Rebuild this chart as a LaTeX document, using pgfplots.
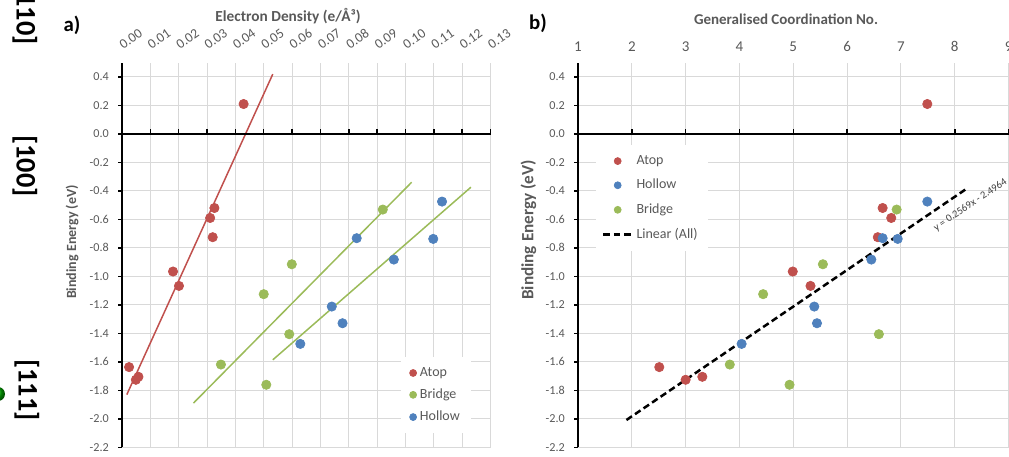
\documentclass[border=0pt]{standalone}
\usepackage{pgfplots}
\pgfplotsset{compat=1.18}
\usepackage{fontspec}
\setmainfont{Carlito}
\definecolor{atop}{HTML}{C0504D}
\definecolor{bridge}{HTML}{9BBB59}
\definecolor{hollow}{HTML}{4F81BD}
\definecolor{txt}{HTML}{595959}
\definecolor{gridc}{HTML}{D9D9D9}
\pgfplotsset{
  common/.style={
    scale only axis,
    height=230.76pt,
    ymin=-2.2, ymax=0.5,
    ytick={-2.2,-2,-1.8,-1.6,-1.4,-1.2,-1,-0.8,-0.6,-0.4,-0.2,0,0.2,0.4},
    axis x line*=top,
    axis y line*=left,
    x axis line style={draw=none},
    y axis line style={line width=1.6pt, black, -},
    xtick style={draw=none},
    ytick style={black, line width=0.9pt},
    tick align=outside,
    major tick length=2.4pt,
    grid=major,
    major grid style={gridc, line width=0.6pt},
    /pgf/number format/assume math mode=true,
    yticklabel style={font=\fontsize{7.3}{8}\selectfont, text=txt, xshift=-2pt,
      /pgf/number format/fixed, /pgf/number format/fixed zerofill,
      /pgf/number format/precision=1},
    clip=false,
    legend cell align=left,
  },
  dot/.style={only marks, mark=*, mark size=2.8pt, mark options={draw=#1, fill=#1}},
}
\begin{document}
\begin{tikzpicture}
\useasboundingbox (0pt,0pt) rectangle (605.4pt,273.6pt);
% left labels
\node[rotate=-90, font=\bfseries\fontsize{17}{17}\selectfont] at (15pt,265.2pt) {[110]};
\node[rotate=-90, font=\bfseries\fontsize{17}{17}\selectfont] at (15pt,174pt) {[100]};
\node[rotate=-90, font=\bfseries\fontsize{17}{17}\selectfont] at (16.2pt,39.6pt) {[111]};
\shade[ball color=green!70!black] (-1.2pt,37.2pt) circle (4.2pt);
\node[font=\bfseries\fontsize{12.5}{13}\selectfont] at (43.2pt,258.6pt) {a)};
\node[font=\bfseries\fontsize{12.5}{13}\selectfont] at (322.8pt,259.8pt) {b)};
\node[font=\bfseries\fontsize{9.2}{10}\selectfont, text=txt] at (172.8pt,264pt) {Electron Density (e/Å³)};
\node[font=\bfseries\fontsize{9}{10}\selectfont, text=txt] at (471.6pt,262.2pt) {Generalised Coordination No.};
\node[rotate=90, font=\bfseries\fontsize{8.4}{10}\selectfont, text=txt] at (43.2pt,128.4pt) {Binding Energy (eV)};
\node[rotate=90, font=\bfseries\fontsize{10.3}{11}\selectfont, text=txt] at (317pt,135.6pt) {Binding Energy (eV)};

% ---------- panel a ----------
\begin{axis}[common,
  at={(73.2pt,5.22pt)}, anchor=south west,
  width=221.1pt,
  xmin=0, xmax=0.13,
  xtick={0,0.01,0.02,0.03,0.04,0.05,0.06,0.07,0.08,0.09,0.1,0.11,0.12,0.13},
  xticklabel style={yshift=0.8pt, rotate=35, anchor=south west, font=\fontsize{8.2}{9}\selectfont, text=txt,
     /pgf/number format/fixed, /pgf/number format/fixed zerofill, /pgf/number format/precision=2},
  legend style={at={(0.757,0.235)}, anchor=north west, draw=none, fill=white,
     font=\fontsize{8.4}{10}\selectfont, text=txt, row sep=2pt, inner xsep=5pt, inner ysep=4pt},
  legend image code/.code={\draw[mark repeat=2,mark phase=2,#1, mark size=2.1pt] plot coordinates {(0cm,0cm)(0.12cm,0cm)(0.24cm,0cm)};},
]
\addplot[dot=atop] coordinates {(0.0429,0.21) (0.0326,-0.52) (0.0311,-0.59) (0.0320,-0.725) (0.0180,-0.966) (0.0201,-1.067) (0.0025,-1.637) (0.0049,-1.726) (0.0058,-1.705)};
\addlegendentry{Atop}
\addplot[dot=bridge] coordinates {(0.0920,-0.531) (0.0599,-0.915) (0.0500,-1.125) (0.0590,-1.406) (0.0349,-1.619) (0.0509,-1.761)};
\addlegendentry{Bridge}
\addplot[dot=hollow] coordinates {(0.1129,-0.475) (0.1098,-0.737) (0.0828,-0.732) (0.0959,-0.882) (0.0740,-1.212) (0.0778,-1.329) (0.0629,-1.474)};
\addlegendentry{Hollow}
\addplot[atop, line width=0.9pt, forget plot] coordinates {(0.0017,-1.83) (0.0532,0.42)};
\addplot[bridge, line width=0.9pt, forget plot] coordinates {(0.0252,-1.89) (0.1022,-0.339)};
\addplot[bridge, line width=0.9pt, forget plot] coordinates {(0.0532,-1.586) (0.1231,-0.374)};
\draw[black, line width=1.6pt] (axis cs:0,0) -- (axis cs:0.13,0);
\pgfplotsinvokeforeach{0.01,0.02,0.03,0.04,0.05,0.06,0.07,0.08,0.09,0.1,0.11,0.12,0.13}{\draw[black,line width=0.9pt] (axis cs:#1,0) -- ++(0pt,3pt);}
\end{axis}

% ---------- panel b ----------
\begin{axis}[common,
  at={(346.8pt,5.22pt)}, anchor=south west,
  width=258.36pt,
  xmin=1, xmax=9,
  xtick={1,2,3,4,5,6,7,8,9},
  xticklabel style={font=\fontsize{9}{10}\selectfont, text=txt, yshift=0.8pt},
  legend style={at={(0.04,0.786)}, anchor=north west, draw=none, fill=white,
     font=\fontsize{8.4}{10}\selectfont, text=txt, row sep=3.4pt, inner xsep=4pt, inner ysep=4pt},
  legend image post style={mark size=2.1pt},
]
\addplot[dot=atop] coordinates {(7.49,0.21) (6.66,-0.52) (6.82,-0.59) (6.57,-0.725) (4.99,-0.966) (5.32,-1.067) (2.51,-1.637) (3.00,-1.726) (3.31,-1.705)};
\addlegendentry{Atop}
\addplot[dot=hollow] coordinates {(7.49,-0.475) (6.66,-0.732) (6.94,-0.737) (6.45,-0.882) (5.39,-1.212) (5.44,-1.329) (4.04,-1.474)};
\addlegendentry{Hollow}
\addplot[dot=bridge] coordinates {(6.92,-0.531) (5.55,-0.915) (4.44,-1.125) (6.59,-1.406) (3.82,-1.619) (4.93,-1.761)};
\addlegendentry{Bridge}
\addplot[black, line width=1.5pt, dash pattern=on 4pt off 2.2pt] coordinates {(1.9,-2.0083) (8.2,-0.3898)};
\addlegendentry{Linear (All)}
\node[rotate=34, font=\fontsize{6.3}{7}\selectfont, text=black!75] at (axis cs:8.29,-0.498) {y = 0.2569x - 2.4964};
\draw[black, line width=1.6pt] (axis cs:1,0) -- (axis cs:9,0);
\pgfplotsinvokeforeach{2,3,4,5,6,7,8,9}{\draw[black,line width=0.9pt] (axis cs:#1,0) -- ++(0pt,3pt);}
\end{axis}
\end{tikzpicture}
\end{document}
